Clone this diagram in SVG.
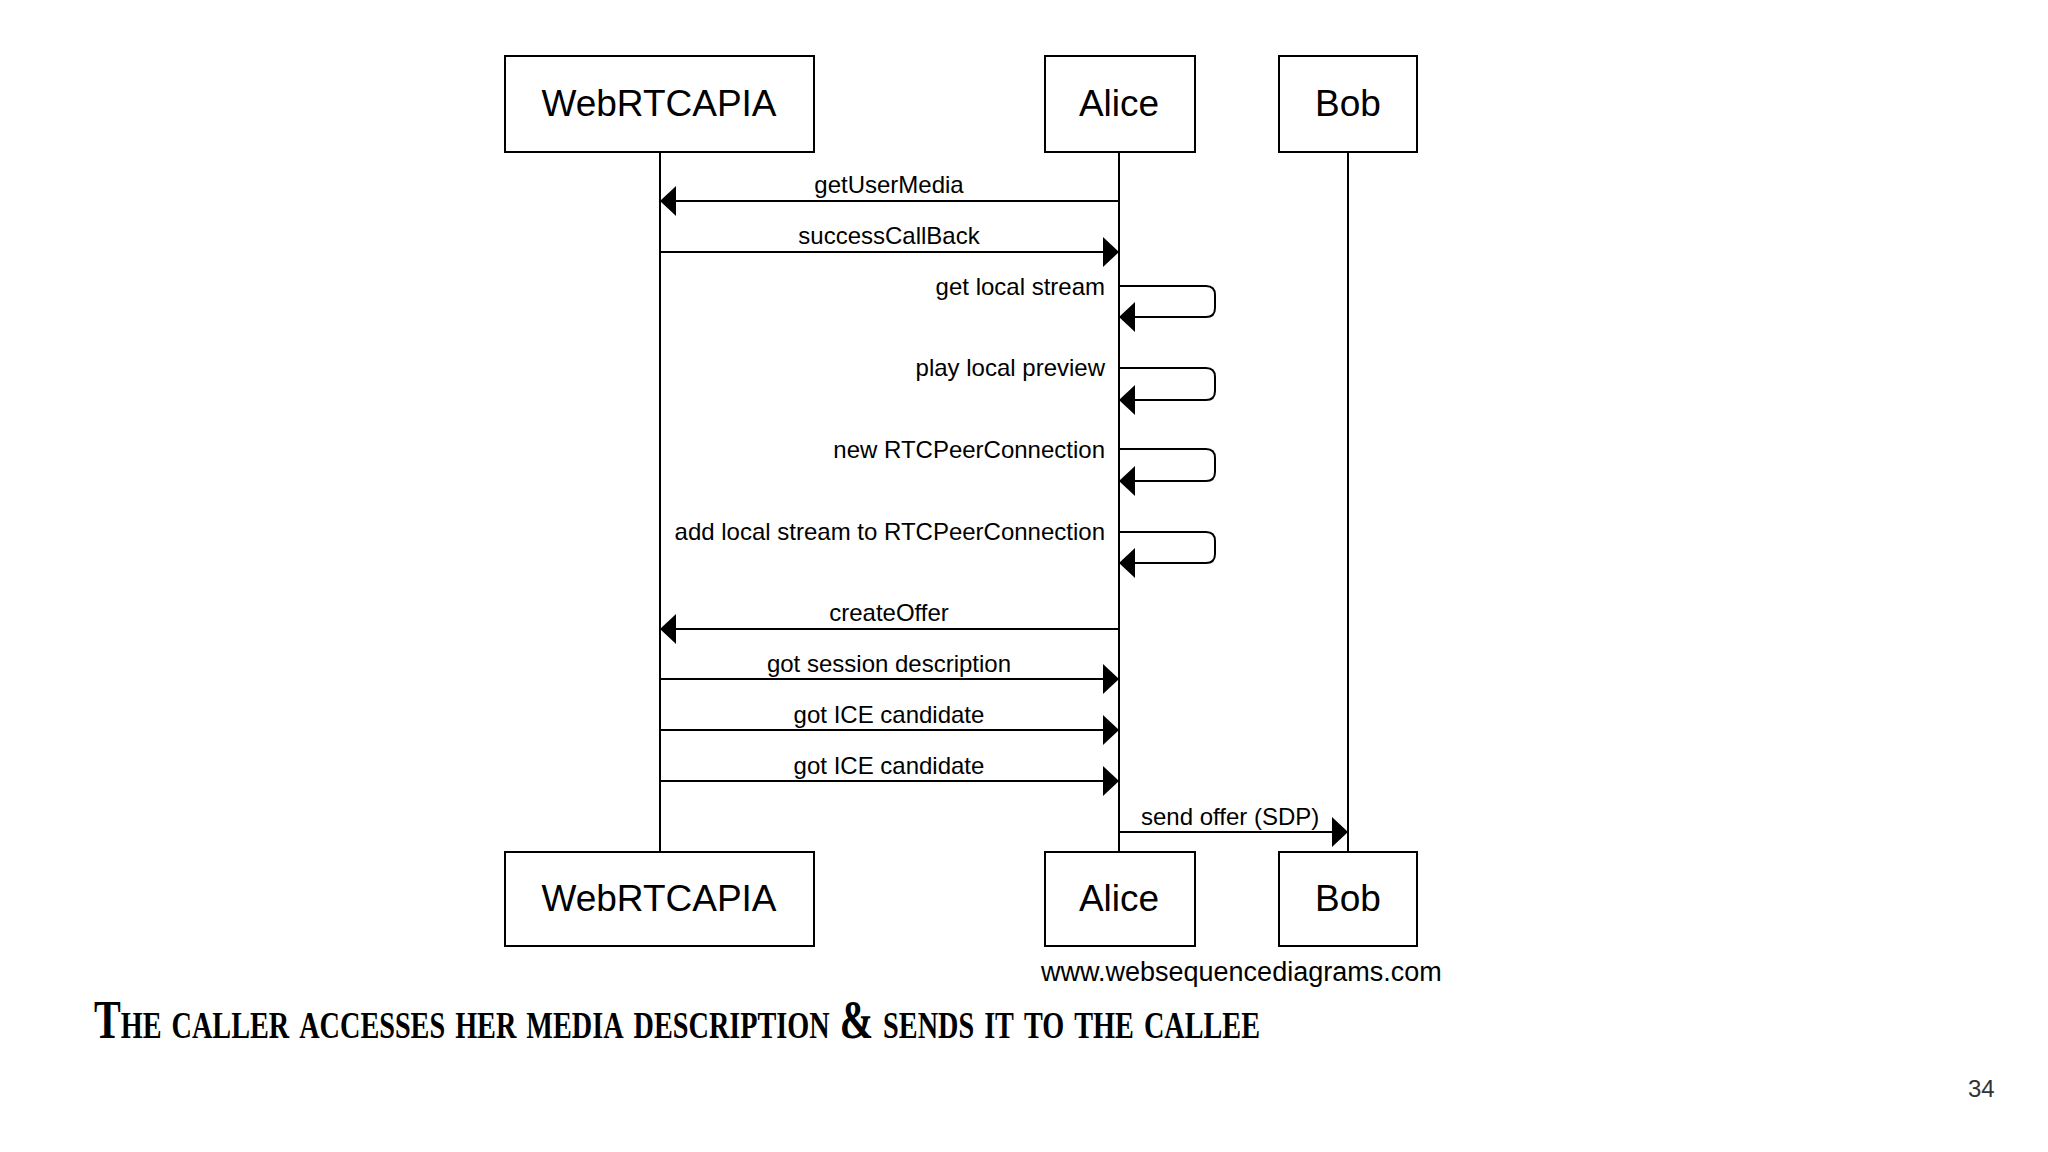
<svg xmlns="http://www.w3.org/2000/svg" width="2048" height="1152" viewBox="0 0 2048 1152">
<style>
.box{fill:#fff;stroke:#000;stroke-width:2}
.bt{font-family:"Liberation Sans",Arial,sans-serif;font-size:37px;text-anchor:middle}
.ml{font-family:"Liberation Sans",Arial,sans-serif;font-size:24px}
.ln{stroke:#000;stroke-width:2;fill:none}
</style>
<defs>
<marker id="ah" markerWidth="16" markerHeight="30" refX="16" refY="15" orient="auto" markerUnits="userSpaceOnUse"><path d="M0,0 L16,15 L0,30 Z" fill="#000"/></marker>
</defs>
<rect width="2048" height="1152" fill="#fff"/>
<g id="lifelines">
<line class="ln" x1="660" y1="152" x2="660" y2="852"/>
<line class="ln" x1="1119" y1="152" x2="1119" y2="852"/>
<line class="ln" x1="1348" y1="152" x2="1348" y2="852"/>
</g>
<g id="n-webrtc-top"><rect class="box" x="505" y="56" width="309" height="96"/><text class="bt" x="659" y="116">WebRTCAPIA</text></g>
<g id="n-alice-top"><rect class="box" x="1045" y="56" width="150" height="96"/><text class="bt" x="1119" y="116">Alice</text></g>
<g id="n-bob-top"><rect class="box" x="1279" y="56" width="138" height="96"/><text class="bt" x="1348" y="116">Bob</text></g>
<g id="n-webrtc-bot"><rect class="box" x="505" y="852" width="309" height="94"/><text class="bt" x="659" y="911">WebRTCAPIA</text></g>
<g id="n-alice-bot"><rect class="box" x="1045" y="852" width="150" height="94"/><text class="bt" x="1119" y="911">Alice</text></g>
<g id="n-bob-bot"><rect class="box" x="1279" y="852" width="138" height="94"/><text class="bt" x="1348" y="911">Bob</text></g>
<g id="connectors">
<line class="ln" x1="1119" y1="201" x2="660" y2="201" marker-end="url(#ah)"/>
<text class="ml" x="889" y="193" text-anchor="middle">getUserMedia</text>
<line class="ln" x1="660" y1="252" x2="1119" y2="252" marker-end="url(#ah)"/>
<text class="ml" x="889" y="244" text-anchor="middle">successCallBack</text>
<path class="ln" d="M1119,286 H1206 Q1215,286 1215,295 V308 Q1215,317 1206,317 H1119" marker-end="url(#ah)"/>
<text class="ml" x="1105" y="295" text-anchor="end">get local stream</text>
<path class="ln" d="M1119,368 H1206 Q1215,368 1215,377 V391 Q1215,400 1206,400 H1119" marker-end="url(#ah)"/>
<text class="ml" x="1105" y="376" text-anchor="end">play local preview</text>
<path class="ln" d="M1119,449 H1206 Q1215,449 1215,458 V472 Q1215,481 1206,481 H1119" marker-end="url(#ah)"/>
<text class="ml" x="1105" y="458" text-anchor="end">new RTCPeerConnection</text>
<path class="ln" d="M1119,532 H1206 Q1215,532 1215,541 V554 Q1215,563 1206,563 H1119" marker-end="url(#ah)"/>
<text class="ml" x="1105" y="540" text-anchor="end">add local stream to RTCPeerConnection</text>
<line class="ln" x1="1119" y1="629" x2="660" y2="629" marker-end="url(#ah)"/>
<text class="ml" x="889" y="621" text-anchor="middle">createOffer</text>
<line class="ln" x1="660" y1="679" x2="1119" y2="679" marker-end="url(#ah)"/>
<text class="ml" x="889" y="672" text-anchor="middle">got session description</text>
<line class="ln" x1="660" y1="730" x2="1119" y2="730" marker-end="url(#ah)"/>
<text class="ml" x="889" y="723" text-anchor="middle">got ICE candidate</text>
<line class="ln" x1="660" y1="781" x2="1119" y2="781" marker-end="url(#ah)"/>
<text class="ml" x="889" y="774" text-anchor="middle">got ICE candidate</text>
<line class="ln" x1="1119" y1="832" x2="1348" y2="832" marker-end="url(#ah)"/>
<text class="ml" x="1141" y="825">send offer (SDP)</text>
</g>
<text x="1041" y="981" font-family="Liberation Sans,Arial,sans-serif" font-size="27">www.websequencediagrams.com</text>
<text x="94" y="1038" font-family="Liberation Serif,serif" font-size="54" font-weight="bold" font-variant="small-caps" textLength="1166" lengthAdjust="spacingAndGlyphs">The caller accesses her media description &amp; sends it to the callee</text>
<text x="1968" y="1097" font-family="Liberation Sans,Arial,sans-serif" font-size="24" fill="#333">34</text>
</svg>
